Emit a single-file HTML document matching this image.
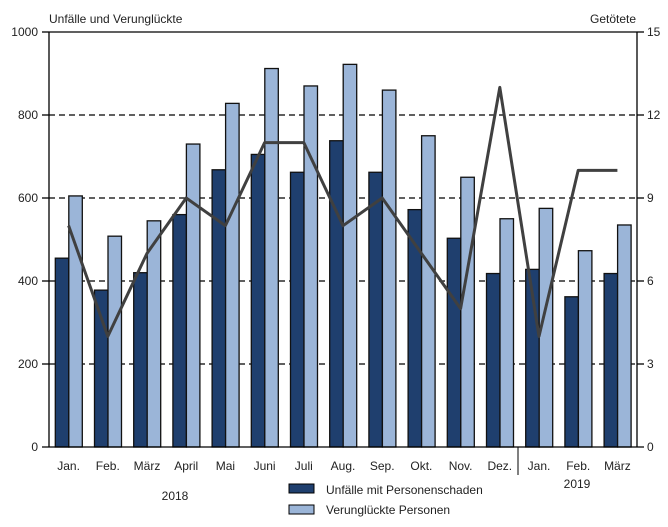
<!DOCTYPE html>
<html><head><meta charset="utf-8"><style>body{margin:0;background:#fff}</style></head><body>
<svg width="668" height="522" xmlns="http://www.w3.org/2000/svg" font-family="Liberation Sans, sans-serif" font-size="12" fill="#222">
<text x="49" y="23">Unfälle und Verunglückte</text>
<text x="590" y="23">Getötete</text>
<g stroke="#000" stroke-width="1.3" stroke-dasharray="6,4">
<line x1="49" x2="637" y1="364" y2="364"/><line x1="49" x2="637" y1="281" y2="281"/>
<line x1="49" x2="637" y1="198" y2="198"/><line x1="49" x2="637" y1="115" y2="115"/>
</g>
<g id="bars"></g>
<g stroke="#000" stroke-width="1.3">
<line x1="49" x2="637" y1="32" y2="32"/><line x1="49" x2="49" y1="32" y2="447"/>
<line x1="637" x2="637" y1="32" y2="447"/><line x1="42" x2="644" y1="447" y2="447"/>
<line x1="42" x2="49" y1="32" y2="32"/><line x1="42" x2="49" y1="115" y2="115"/><line x1="42" x2="49" y1="198" y2="198"/><line x1="42" x2="49" y1="281" y2="281"/><line x1="42" x2="49" y1="364" y2="364"/>
<line x1="637" x2="644" y1="32" y2="32"/><line x1="637" x2="644" y1="115" y2="115"/><line x1="637" x2="644" y1="198" y2="198"/><line x1="637" x2="644" y1="281" y2="281"/><line x1="637" x2="644" y1="364" y2="364"/>
<line x1="518" x2="518" y1="447" y2="475" stroke-width="1"/>
</g>
<g text-anchor="end">
<text x="38" y="36">1000</text><text x="38" y="119">800</text><text x="38" y="202">600</text><text x="38" y="285">400</text><text x="38" y="368">200</text><text x="38" y="451">0</text>
</g>
<g>
<text x="647" y="36">15</text><text x="647" y="119">12</text><text x="647" y="202">9</text><text x="647" y="285">6</text><text x="647" y="368">3</text><text x="647" y="451">0</text>
</g>
<g text-anchor="middle" id="lbl"></g>
<text x="175" y="500" text-anchor="middle">2018</text>
<text x="577" y="488" text-anchor="middle">2019</text>
<rect x="289" y="484" width="25" height="9" fill="#1f3f6e" stroke="#000" stroke-width="1"/>
<text x="326" y="494">Unfälle mit Personenschaden</text>
<rect x="289" y="505" width="25" height="9" fill="#9bb5d8" stroke="#000" stroke-width="1"/>
<text x="326" y="514">Verunglückte Personen</text>
<polyline id="ln" fill="none" stroke="#404040" stroke-width="3" stroke-linejoin="round"/>
</svg>
<script>
var d=[455,378,420,560,668,705,662,738,662,572,503,418,428,362,418];
var l=[605,508,545,730,828,912,870,922,860,750,650,550,575,473,535];
var g=[8,4,7,9,8,11,11,8,9,7,5,13,4,10,10];
var m=["Jan.","Feb.","März","April","Mai","Juni","Juli","Aug.","Sep.","Okt.","Nov.","Dez.","Jan.","Feb.","März"];
var ns="http://www.w3.org/2000/svg",b=document.getElementById("bars"),L=document.getElementById("lbl"),pts=[];
function r(x,v,c){var e=document.createElementNS(ns,"rect");e.setAttribute("x",x);e.setAttribute("y",447-v*0.415);e.setAttribute("width",13.5);e.setAttribute("height",v*0.415);e.setAttribute("fill",c);e.setAttribute("stroke","#111");e.setAttribute("stroke-width","1.3");b.appendChild(e);}
for(var i=0;i<15;i++){var x0=49+i*39.2;
r(x0+6.3,d[i],"#1f3f6e");r(x0+19.8,l[i],"#9bb5d8");
var t=document.createElementNS(ns,"text");t.setAttribute("x",x0+19.6);t.setAttribute("y",470);t.textContent=m[i];L.appendChild(t);
pts.push((x0+19.6)+","+(447-g[i]*415/15));}
document.getElementById("ln").setAttribute("points",pts.join(" "));
</script>
</body></html>
